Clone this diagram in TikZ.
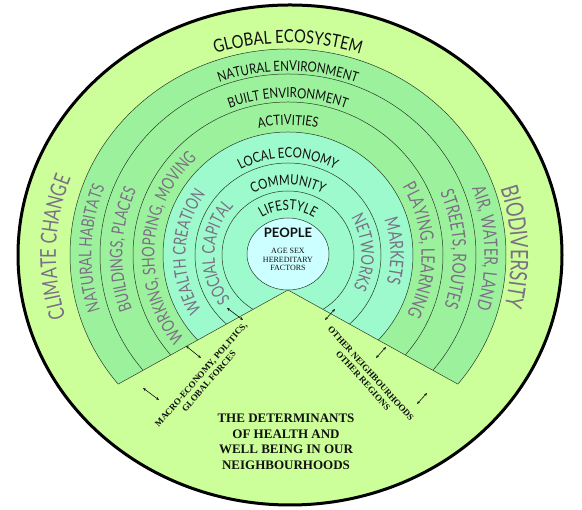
\documentclass[tikz,border=0pt]{standalone}
\usepackage{fontspec}
\setmainfont{Liberation Serif}
\newfontfamily\ringfont[FakeStretch=0.82]{Lato}
\newfontfamily\sidefont[FakeStretch=0.75]{Lato}
\newfontfamily\hubfont{Lato}
\usetikzlibrary{calc,decorations.text,arrows.meta}
\definecolor{outerband}{HTML}{CCFF99}
\definecolor{midgreen}{HTML}{9CF29C}
\definecolor{aqua}{HTML}{9CFACC}
\definecolor{hub}{HTML}{CCFFFF}
\definecolor{ink}{HTML}{111111}
\definecolor{mauve}{HTML}{7A6F85}
\definecolor{rim}{HTML}{2A3A2A}

\begin{document}
\begin{tikzpicture}[x=1pt,y=1pt,
    ringline/.style={draw=rim, line width=0.5pt},
    toplabel/.style 2 args={decorate, decoration={text along path, text align=center, text color=ink,
        text={|\fontsize{#1}{#1}\ringfont|#2}}},
    sidelabel/.style 2 args={decorate, decoration={text along path, text align=center, text color=mauve,
        text={|\fontsize{#1}{#1}\sidefont|#2}}},
    twoway/.style={{Stealth[length=3.2pt,width=2.6pt]}-{Stealth[length=3.2pt,width=2.6pt]}, line width=0.6pt, draw=ink},
    wedgenote/.style={font=\fontsize{9}{10.5}\selectfont\bfseries, align=center, text=ink, inner sep=0pt}]
  \useasboundingbox (0,0) rectangle (582,510);
  \fill[white] (0,0) rectangle (582,510);
  \coordinate (O) at (290,255);   % outer ring
  \coordinate (C) at (288,255);   % inner rings
  \coordinate (apex) at (288,220);
  \coordinate (wl) at ($(apex)+(209:194.2)$);
  \coordinate (wr) at ($(apex)+(-29:194.2)$);
  \fill[outerband] (O) ellipse [x radius=272, y radius=250];
  % rings, outside in
  \foreach \rx/\ry/\col in {218/206/midgreen, 188/181/midgreen, 155/153/midgreen, 125/123/aqua, 93/92/aqua, 66/64/aqua}
    \fill[\col] (C) ellipse [x radius=\rx, y radius=\ry];
  \foreach \rx/\ry in {218/206, 188/181, 155/153, 125/123, 93/92, 66/64}
    \draw[ringline] (C) ellipse [x radius=\rx, y radius=\ry];
  % wedge
  \begin{scope}
    \clip (C) ellipse [x radius=219.5, y radius=207.5];
    \fill[outerband] (apex) -- ($(apex)+(209:400)$) -- ($(apex)+(-29:400)$) -- cycle;
  \end{scope}
  \draw[ringline] (wl) -- (apex) -- (wr);
  \filldraw[ringline, fill=hub] (288,256) ellipse [x radius=41, y radius=36];
  \draw[black, line width=3pt] (O) ellipse [x radius=272, y radius=250];
  % ring titles
  \path[toplabel={18}{GLOBAL ECOSYSTEM}] ($(C)+(170:228 and 212)$) arc[start angle=170, end angle=10, x radius=228, y radius=212];
  \path[toplabel={14}{NATURAL ENVIRONMENT}] ($(C)+(170:196 and 184)$) arc[start angle=170, end angle=10, x radius=196, y radius=184];
  \path[toplabel={14}{BUILT ENVIRONMENT}] ($(C)+(170:164 and 157)$) arc[start angle=170, end angle=10, x radius=164, y radius=157];
  \path[toplabel={14}{ACTIVITIES}] ($(C)+(170:132 and 130)$) arc[start angle=170, end angle=10, x radius=132, y radius=130];
  \path[toplabel={14}{LOCAL ECONOMY}] ($(C)+(170:99 and 97)$) arc[start angle=170, end angle=10, x radius=99, y radius=97];
  \path[toplabel={14}{COMMUNITY}] ($(C)+(170:71 and 70)$) arc[start angle=170, end angle=10, x radius=71, y radius=70];
  \path[toplabel={14}{LIFESTYLE}] ($(C)+(170:47 and 45)$) arc[start angle=170, end angle=10, x radius=47, y radius=45];
  % left side, reading up
  \path[sidelabel={21.9}{CLIMATE CHANGE}] ($(C)+(235:232 and 218)$) arc[start angle=235, end angle=121, x radius=232, y radius=218];
  \path[sidelabel={17.5}{NATURAL HABITATS}] ($(C)+(235:196.5 and 188)$) arc[start angle=235, end angle=121, x radius=196.5, y radius=188];
  \path[sidelabel={17.5}{BUILDINGS, PLACES}] ($(C)+(235:165.5 and 161)$) arc[start angle=235, end angle=121, x radius=165.5, y radius=161];
  \path[sidelabel={17.5}{WORKING, SHOPPING, MOVING}] ($(C)+(233:133.5 and 132)$) arc[start angle=233, end angle=119, x radius=133.5, y radius=132];
  \path[sidelabel={17.5}{WEALTH CREATION}] ($(C)+(235:102.5 and 102)$) arc[start angle=235, end angle=121, x radius=102.5, y radius=102];
  \path[sidelabel={17.5}{SOCIAL CAPITAL}] ($(C)+(235:73.5 and 72)$) arc[start angle=235, end angle=121, x radius=73.5, y radius=72];
  % right side, reading down
  \path[sidelabel={24}{BIODIVERSITY}] ($(C)+(59:223 and 218)$) arc[start angle=59, end angle=-55, x radius=223, y radius=218];
  \path[sidelabel={18.6}{AIR, WATER, LAND}] ($(C)+(59:196.5 and 188)$) arc[start angle=59, end angle=-55, x radius=196.5, y radius=188];
  \path[sidelabel={18.6}{STREETS, ROUTES}] ($(C)+(59:165 and 161)$) arc[start angle=59, end angle=-55, x radius=165, y radius=161];
  \path[sidelabel={18.6}{PLAYING, LEARNING}] ($(C)+(59:133.5 and 132)$) arc[start angle=59, end angle=-55, x radius=133.5, y radius=132];
  \path[sidelabel={18.6}{MARKETS}] ($(C)+(59:102.5 and 102)$) arc[start angle=59, end angle=-55, x radius=102.5, y radius=102];
  \path[sidelabel={17.5}{NETWORKS}] ($(C)+(59:73.5 and 72)$) arc[start angle=59, end angle=-55, x radius=73.5, y radius=72];
  % centre
  \node[font=\fontsize{13}{13}\hubfont\bfseries, text=ink] (people) at (288,277) {PEOPLE};
  \node[font=\fontsize{8}{8.5}\selectfont, align=center, text=ink, inner sep=0pt] (factors) at (288,250.5) {AGE SEX\\HEREDITARY\\FACTORS};
  % wedge texts
  \node[wedgenote, rotate=49] (macro) at (205,132) {MACRO-ECONOMY, POLITICS,\\GLOBAL FORCES};
  \node[wedgenote, rotate=-48] (others) at (367,133) {OTHER NEIGHBOURHOODS\\OTHER REGIONS};
  \node[font=\fontsize{13}{15.5}\selectfont\bfseries, align=center, text=ink] (determinants) at (286,68)
    {THE DETERMINANTS\\OF HEALTH AND\\WELL BEING IN OUR\\NEIGHBOURHOODS};
  % two-way arrows across the wedge
  \foreach \i/\ax/\ay/\bx/\by in {1/227/202/243/190, 2/186/164/201/152, 3/143/122/159/110,
      4/335/201/325/190, 5/386/163/376/152, 6/427/117/417/106}{
    \coordinate (tail\i) at (\ax,\ay); \coordinate (tip\i) at (\bx,\by);
    \draw[twoway] (tail\i) -- (tip\i);}
\end{tikzpicture}
\end{document}
